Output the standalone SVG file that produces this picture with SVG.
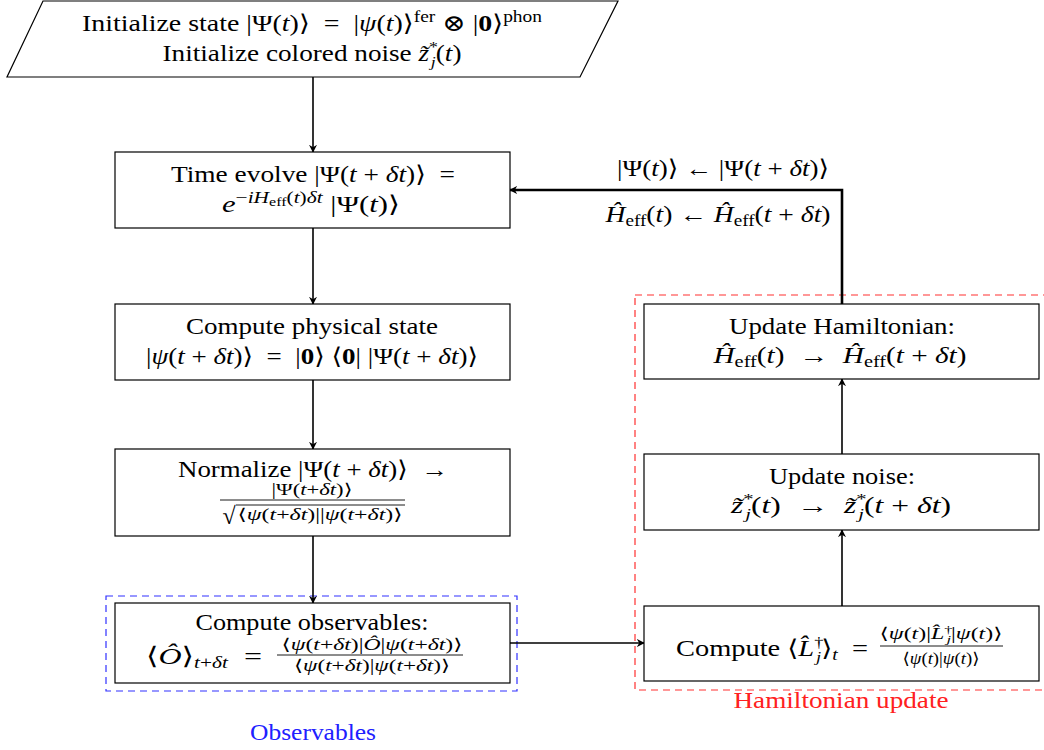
<svg xmlns="http://www.w3.org/2000/svg" width="1044" height="750" viewBox="0 0 1044 750">
<style>
text{font-family:"Liberation Serif","DejaVu Serif",serif;fill:#000;}
.t{font-size:23px;text-anchor:middle;}
.s{font-size:16px;text-anchor:middle;}
.i{font-style:italic;}
.b{font-weight:bold;}
.box{fill:#fff;stroke:#000;stroke-width:1.2;}
.edge{fill:none;stroke:#000;stroke-width:1.6;}
.bar{stroke:#000;stroke-width:0.9;}
</style>
<defs>
<marker id="ah" viewBox="0 0 10 10" refX="9" refY="5" markerWidth="8" markerHeight="8" markerUnits="userSpaceOnUse" orient="auto">
<path d="M0,0 L10,5 L0,10 L3,5 Z" fill="#000"/>
</marker>
</defs>
<g id="groups">
<rect x="106" y="596" width="411" height="95" fill="none" stroke="#3030ff" stroke-width="1.2" stroke-dasharray="7,5"/>
<rect x="635" y="295" width="420" height="395" fill="none" stroke="#ff3030" stroke-width="1.2" stroke-dasharray="7,5"/>
<text x="313" y="740" textLength="126" lengthAdjust="spacingAndGlyphs" style="font-size:23px;text-anchor:middle;fill:#2020ff">Observables</text>
<text x="841" y="708" textLength="215" lengthAdjust="spacingAndGlyphs" style="font-size:23px;text-anchor:middle;fill:#ff2020">Hamiltonian update</text>
</g>
<g id="connectors">
<line class="edge" x1="313" y1="77" x2="313" y2="152" marker-end="url(#ah)"/>
<line class="edge" x1="313" y1="228" x2="313" y2="304" marker-end="url(#ah)"/>
<line class="edge" x1="313" y1="380" x2="313" y2="449" marker-end="url(#ah)"/>
<line class="edge" x1="313" y1="536" x2="313" y2="603" marker-end="url(#ah)"/>
<line class="edge" x1="510" y1="643" x2="644" y2="643" marker-end="url(#ah)"/>
<line class="edge" x1="842" y1="606" x2="842" y2="530" marker-end="url(#ah)"/>
<line class="edge" x1="842" y1="454" x2="842" y2="379" marker-end="url(#ah)"/>
<polyline points="842,304 842,190 510,190" fill="none" stroke="#000" stroke-width="2.6" marker-end="url(#ah)"/>
<text class="t" x="723" y="176" textLength="212" lengthAdjust="spacingAndGlyphs">|Ψ(<tspan class="i">t</tspan>)⟩ ← |Ψ(<tspan class="i">t</tspan> + <tspan class="i">δt</tspan>)⟩</text>
<text class="t" x="718" y="222" textLength="225" lengthAdjust="spacingAndGlyphs"><tspan class="i">Ĥ</tspan><tspan font-size="16" dy="4">eff</tspan><tspan dy="-4">(</tspan><tspan class="i">t</tspan>) ← <tspan class="i">Ĥ</tspan><tspan font-size="16" dy="4">eff</tspan><tspan dy="-4">(</tspan><tspan class="i">t</tspan> + <tspan class="i">δt</tspan>)</text>
</g>
<g id="init">
<polygon class="box" points="43,1 618,1 580,77 7,77"/>
<text class="t" x="312" y="31" textLength="460" lengthAdjust="spacingAndGlyphs">Initialize state |Ψ(<tspan class="i">t</tspan>)⟩&#8194;=&#8194;|<tspan class="i">ψ</tspan>(<tspan class="i">t</tspan>)⟩<tspan font-size="16" dy="-9">fer</tspan><tspan dy="9"> ⊗ |</tspan><tspan class="b">0</tspan>⟩<tspan font-size="16" dy="-9">phon</tspan></text>
<text class="t" x="312" y="61" textLength="299" lengthAdjust="spacingAndGlyphs">Initialize colored noise <tspan class="i">z̃</tspan><tspan font-size="15" dy="-9">*</tspan><tspan font-size="15" class="i" dx="-6" dy="15">j</tspan><tspan dy="-6">(</tspan><tspan class="i">t</tspan>)</text>
</g>
<g id="evolve">
<rect class="box" x="115" y="152" width="395" height="76"/>
<text class="t" x="313" y="182" textLength="284" lengthAdjust="spacingAndGlyphs">Time evolve |Ψ(<tspan class="i">t</tspan> + <tspan class="i">δt</tspan>)⟩&#8194;=</text>
<text class="t" x="311" y="212" textLength="178" lengthAdjust="spacingAndGlyphs"><tspan class="i">e</tspan><tspan font-size="16" dy="-9">−</tspan><tspan font-size="16" class="i">iH</tspan><tspan font-size="12" dy="3">eff</tspan><tspan font-size="16" dy="-3">(</tspan><tspan font-size="16" class="i">t</tspan><tspan font-size="16">)</tspan><tspan font-size="16" class="i">δt</tspan><tspan dy="9"> |Ψ(</tspan><tspan class="i">t</tspan>)⟩</text>
</g>
<g id="physical">
<rect class="box" x="115" y="304" width="395" height="76"/>
<text class="t" x="312" y="334" textLength="252" lengthAdjust="spacingAndGlyphs">Compute physical state</text>
<text class="t" x="312" y="364" textLength="332" lengthAdjust="spacingAndGlyphs">|<tspan class="i">ψ</tspan>(<tspan class="i">t</tspan> + <tspan class="i">δt</tspan>)⟩&#8194;=&#8194;|<tspan class="b">0</tspan>⟩ ⟨<tspan class="b">0</tspan>| |Ψ(<tspan class="i">t</tspan> + <tspan class="i">δt</tspan>)⟩</text>
</g>
<g id="normalize">
<rect class="box" x="115" y="449" width="395" height="87"/>
<text class="t" x="313" y="477" textLength="270" lengthAdjust="spacingAndGlyphs">Normalize |Ψ(<tspan class="i">t</tspan> + <tspan class="i">δt</tspan>)⟩&#8194;→</text>
<text class="s" x="312" y="495" textLength="81" lengthAdjust="spacingAndGlyphs">|Ψ(<tspan class="i">t</tspan>+<tspan class="i">δt</tspan>)⟩</text>
<line class="bar" x1="220" y1="500" x2="405" y2="500"/>
<text x="229" y="524" style="font-size:24px;text-anchor:middle">√</text>
<line class="bar" x1="236" y1="505" x2="405" y2="505"/>
<text class="s" x="320" y="520" textLength="165" lengthAdjust="spacingAndGlyphs">⟨<tspan class="i">ψ</tspan>(<tspan class="i">t</tspan>+<tspan class="i">δt</tspan>)||<tspan class="i">ψ</tspan>(<tspan class="i">t</tspan>+<tspan class="i">δt</tspan>)⟩</text>
</g>
<g id="observables">
<rect class="box" x="115" y="603" width="395" height="80"/>
<text class="t" x="312" y="630" textLength="233" lengthAdjust="spacingAndGlyphs">Compute observables:</text>
<text x="204" y="664" textLength="116" lengthAdjust="spacingAndGlyphs" style="font-size:24px;text-anchor:middle">⟨<tspan class="i">Ô</tspan>⟩<tspan font-size="16" class="i" dy="4">t</tspan><tspan font-size="16">+</tspan><tspan font-size="16" class="i">δt</tspan><tspan dy="-4">&#8194;=</tspan></text>
<text class="s" x="372" y="650" textLength="181" lengthAdjust="spacingAndGlyphs">⟨<tspan class="i">ψ</tspan>(<tspan class="i">t</tspan>+<tspan class="i">δt</tspan>)|<tspan class="i">Ô</tspan>|<tspan class="i">ψ</tspan>(<tspan class="i">t</tspan>+<tspan class="i">δt</tspan>)⟩</text>
<line class="bar" x1="277" y1="655" x2="463" y2="655"/>
<text class="s" x="372" y="671" textLength="156" lengthAdjust="spacingAndGlyphs">⟨<tspan class="i">ψ</tspan>(<tspan class="i">t</tspan>+<tspan class="i">δt</tspan>)|<tspan class="i">ψ</tspan>(<tspan class="i">t</tspan>+<tspan class="i">δt</tspan>)⟩</text>
</g>
<g id="lindblad">
<rect class="box" x="644" y="606" width="395" height="75"/>
<text x="772" y="656" textLength="192" lengthAdjust="spacingAndGlyphs" style="font-size:23px;text-anchor:middle">Compute ⟨<tspan class="i">L̂</tspan><tspan font-size="15" dy="-9">†</tspan><tspan font-size="15" class="i" dx="-6" dy="15">j</tspan><tspan dy="-6">⟩</tspan><tspan font-size="16" class="i" dy="4">t</tspan><tspan dy="-4">&#8194;=</tspan></text>
<text class="s" x="941" y="639" textLength="123" lengthAdjust="spacingAndGlyphs">⟨<tspan class="i">ψ</tspan>(<tspan class="i">t</tspan>)|<tspan class="i">L̂</tspan><tspan font-size="11" dy="-6">†</tspan><tspan font-size="11" class="i" dx="-4" dy="10">j</tspan><tspan dy="-4">|</tspan><tspan class="i">ψ</tspan>(<tspan class="i">t</tspan>)⟩</text>
<line class="bar" x1="880" y1="646" x2="1003" y2="646"/>
<text class="s" x="941" y="664" textLength="77" lengthAdjust="spacingAndGlyphs">⟨<tspan class="i">ψ</tspan>(<tspan class="i">t</tspan>)|<tspan class="i">ψ</tspan>(<tspan class="i">t</tspan>)⟩</text>
</g>
<g id="noise">
<rect class="box" x="644" y="454" width="395" height="76"/>
<text class="t" x="842" y="484" textLength="146" lengthAdjust="spacingAndGlyphs">Update noise:</text>
<text class="t" x="841" y="513" textLength="220" lengthAdjust="spacingAndGlyphs"><tspan class="i">z̃</tspan><tspan font-size="15" dy="-9">*</tspan><tspan font-size="15" class="i" dx="-6" dy="15">j</tspan><tspan dy="-6">(</tspan><tspan class="i">t</tspan>)&#8194;→&#8194;<tspan class="i">z̃</tspan><tspan font-size="15" dy="-9">*</tspan><tspan font-size="15" class="i" dx="-6" dy="15">j</tspan><tspan dy="-6">(</tspan><tspan class="i">t</tspan> + <tspan class="i">δt</tspan>)</text>
</g>
<g id="hamiltonian">
<rect class="box" x="644" y="304" width="395" height="75"/>
<text class="t" x="842" y="334" textLength="226" lengthAdjust="spacingAndGlyphs">Update Hamiltonian:</text>
<text class="t" x="840" y="363" textLength="253" lengthAdjust="spacingAndGlyphs"><tspan class="i">Ĥ</tspan><tspan font-size="16" dy="4">eff</tspan><tspan dy="-4">(</tspan><tspan class="i">t</tspan>)&#8194;→&#8194;<tspan class="i">Ĥ</tspan><tspan font-size="16" dy="4">eff</tspan><tspan dy="-4">(</tspan><tspan class="i">t</tspan> + <tspan class="i">δt</tspan>)</text>
</g>
</svg>
